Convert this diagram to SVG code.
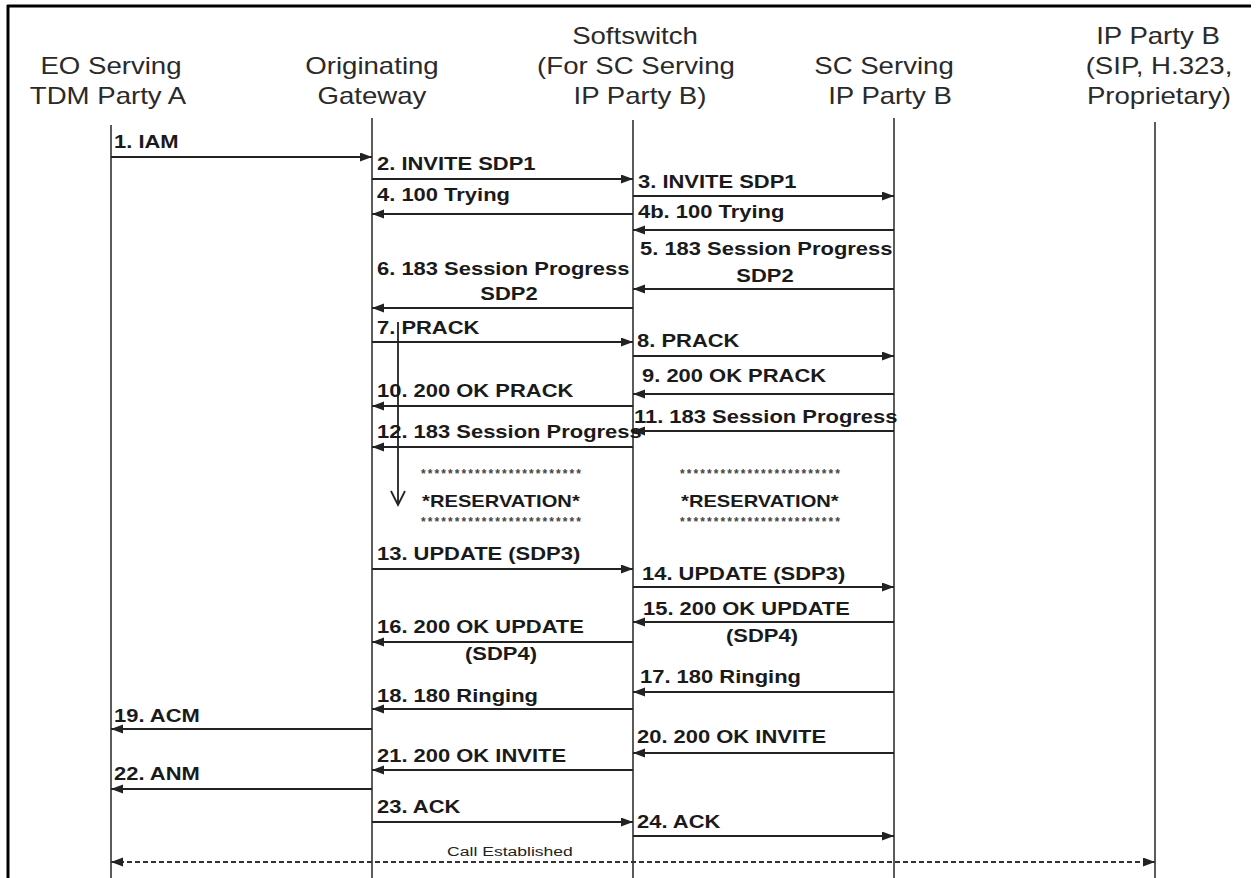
<svg xmlns="http://www.w3.org/2000/svg" width="1256" height="878" viewBox="0 0 1256 878">
<style>
.h{font-family:"Liberation Sans",Arial,sans-serif;font-size:23px;fill:#2a2a2a;text-anchor:middle;transform-box:fill-box;transform-origin:50% 50%;transform:scaleX(1.2)}
.m{font-family:"Liberation Sans",Arial,sans-serif;font-size:18px;font-weight:bold;fill:#1a1a1a;transform-box:fill-box;transform-origin:0% 50%;transform:scaleX(1.22)}
.mc{text-anchor:middle;transform-origin:50% 50%}
.r{font-size:16.5px}
.st{font-family:"Liberation Sans",Arial,sans-serif;font-size:12px;font-weight:bold;fill:#444;text-anchor:middle}
.ce{font-family:"Liberation Sans",Arial,sans-serif;font-size:13.5px;fill:#222;text-anchor:middle;transform-box:fill-box;transform-origin:50% 50%;transform:scaleX(1.3)}
.life{stroke:#333;stroke-width:1.6;fill:none}
.msg{stroke:#222;stroke-width:2;fill:none;marker-end:url(#ah)}
.dash{stroke:#333;stroke-width:2;fill:none;stroke-dasharray:5 3;marker-end:url(#ah);marker-start:url(#ahs)}
.frame{stroke:#000;stroke-width:3;fill:none}
</style>
<defs>
<marker id="ah" markerUnits="userSpaceOnUse" markerWidth="13" markerHeight="10" refX="12" refY="4.5" orient="auto"><path d="M0,0 L12,4.5 L0,9 z" fill="#222"/></marker>
<marker id="ahs" markerUnits="userSpaceOnUse" markerWidth="13" markerHeight="10" refX="12" refY="4.5" orient="auto-start-reverse"><path d="M0,0 L12,4.5 L0,9 z" fill="#222"/></marker>
</defs>
<rect width="1256" height="878" fill="#fff"/>
<path class="frame" d="M7,6 H1251 M8,5 V878"/>

<g id="eo">
<text class="h" x="111" y="74">EO Serving</text>
<text class="h" x="108" y="104">TDM Party A</text>
<line class="life" x1="111" y1="125" x2="111" y2="878"/>
</g>
<g id="og">
<text class="h" x="372" y="74">Originating</text>
<text class="h" x="372" y="104">Gateway</text>
<line class="life" x1="372" y1="118" x2="372" y2="878"/>
</g>
<g id="ss">
<text class="h" x="635" y="44">Softswitch</text>
<text class="h" x="636" y="74">(For SC Serving</text>
<text class="h" x="640" y="104">IP Party B)</text>
<line class="life" x1="633" y1="120" x2="633" y2="878"/>
</g>
<g id="sc">
<text class="h" x="884" y="74">SC Serving</text>
<text class="h" x="890" y="104">IP Party B</text>
<line class="life" x1="894" y1="118" x2="894" y2="878"/>
</g>
<g id="ipb">
<text class="h" x="1158" y="44">IP Party B</text>
<text class="h" x="1159" y="74">(SIP, H.323,</text>
<text class="h" x="1159" y="104">Proprietary)</text>
<line class="life" x1="1155" y1="122" x2="1155" y2="878"/>
</g>

<g id="res1">
<text class="st" x="501" y="478" textLength="160" lengthAdjust="spacing">************************</text>
<text class="m mc r" x="501" y="507">*RESERVATION*</text>
<text class="st" x="501" y="526" textLength="160" lengthAdjust="spacing">************************</text>
</g>
<g id="res2">
<text class="st" x="760" y="478" textLength="160" lengthAdjust="spacing">************************</text>
<text class="m mc r" x="760" y="507">*RESERVATION*</text>
<text class="st" x="760" y="526" textLength="160" lengthAdjust="spacing">************************</text>
</g>

<g id="connectors">
<line class="msg" x1="111" y1="157" x2="372" y2="157"/>
<line class="msg" x1="372" y1="179" x2="633" y2="179"/>
<line class="msg" x1="633" y1="196" x2="894" y2="196"/>
<line class="msg" x1="633" y1="214" x2="372" y2="214"/>
<line class="msg" x1="894" y1="230" x2="633" y2="230"/>
<line class="msg" x1="894" y1="289" x2="633" y2="289"/>
<line class="msg" x1="633" y1="308" x2="372" y2="308"/>
<line class="msg" x1="372" y1="342" x2="633" y2="342"/>
<line class="msg" x1="633" y1="356" x2="894" y2="356"/>
<line class="msg" x1="894" y1="394" x2="633" y2="394"/>
<line class="msg" x1="633" y1="406" x2="372" y2="406"/>
<line class="msg" x1="894" y1="431" x2="633" y2="431"/>
<line class="msg" x1="633" y1="447" x2="372" y2="447"/>
<line class="msg" x1="372" y1="569" x2="633" y2="569"/>
<line class="msg" x1="633" y1="587" x2="894" y2="587"/>
<line class="msg" x1="894" y1="622" x2="633" y2="622"/>
<line class="msg" x1="633" y1="642" x2="372" y2="642"/>
<line class="msg" x1="894" y1="692" x2="633" y2="692"/>
<line class="msg" x1="633" y1="709" x2="372" y2="709"/>
<line class="msg" x1="372" y1="729" x2="111" y2="729"/>
<line class="msg" x1="894" y1="753" x2="633" y2="753"/>
<line class="msg" x1="633" y1="770" x2="372" y2="770"/>
<line class="msg" x1="372" y1="789" x2="111" y2="789"/>
<line class="msg" x1="372" y1="822" x2="633" y2="822"/>
<line class="msg" x1="633" y1="836" x2="894" y2="836"/>
<line class="dash" x1="111" y1="862" x2="1155" y2="862"/>
<path d="M398,322 V504 M391,491 L398,505 L405,491" stroke="#222" stroke-width="1.8" fill="none"/>
</g>

<g id="labels">
<text class="m" x="114" y="148">1. IAM</text>
<text class="m" x="377" y="170">2. INVITE SDP1</text>
<text class="m" x="638" y="188">3. INVITE SDP1</text>
<text class="m" x="377" y="201">4. 100 Trying</text>
<text class="m" x="638" y="218">4b. 100 Trying</text>
<text class="m" x="640" y="255">5. 183 Session Progress</text>
<text class="m mc" x="765" y="282">SDP2</text>
<text class="m" x="377" y="275">6. 183 Session Progress</text>
<text class="m mc" x="509" y="300">SDP2</text>
<text class="m" x="377" y="334">7. PRACK</text>
<text class="m" x="637" y="347">8. PRACK</text>
<text class="m" x="642" y="382">9. 200 OK PRACK</text>
<text class="m" x="377" y="397">10. 200 OK PRACK</text>
<text class="m" x="634" y="423">11. 183 Session Progress</text>
<text class="m" x="377" y="438">12. 183 Session Progress</text>
<text class="m" x="377" y="560">13. UPDATE (SDP3)</text>
<text class="m" x="642" y="580">14. UPDATE (SDP3)</text>
<text class="m" x="643" y="615">15. 200 OK UPDATE</text>
<text class="m mc" x="762" y="642">(SDP4)</text>
<text class="m" x="377" y="633">16. 200 OK UPDATE</text>
<text class="m mc" x="501" y="660">(SDP4)</text>
<text class="m" x="640" y="683">17. 180 Ringing</text>
<text class="m" x="377" y="702">18. 180 Ringing</text>
<text class="m" x="114" y="722">19. ACM</text>
<text class="m" x="637" y="743">20. 200 OK INVITE</text>
<text class="m" x="377" y="762">21. 200 OK INVITE</text>
<text class="m" x="114" y="780">22. ANM</text>
<text class="m" x="377" y="813">23. ACK</text>
<text class="m" x="637" y="828">24. ACK</text>
<text class="ce" x="510" y="856">Call Established</text>
</g>
</svg>
